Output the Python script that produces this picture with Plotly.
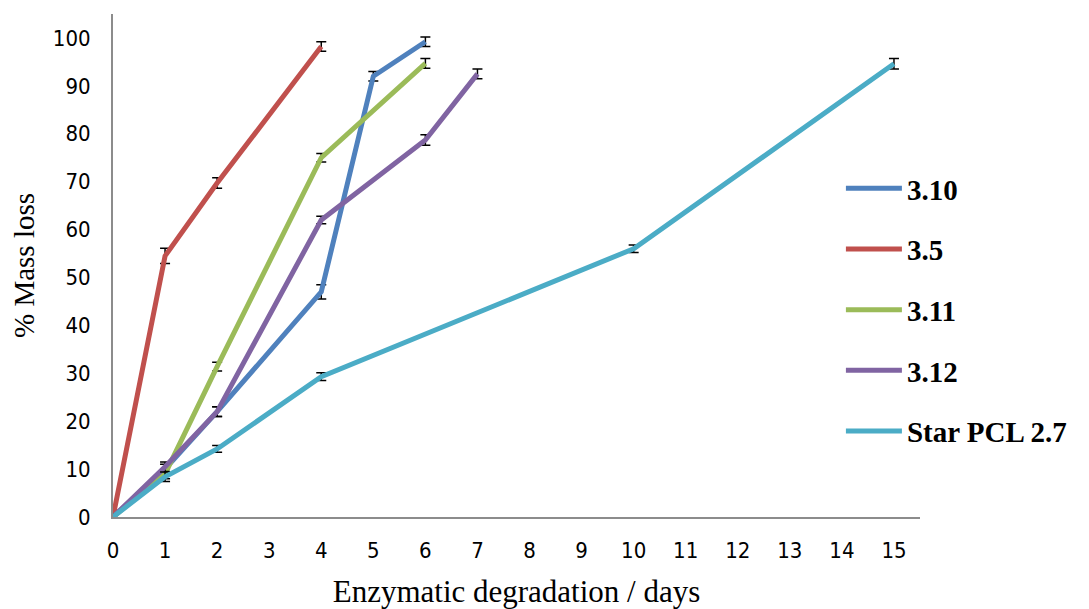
import plotly.graph_objects as go

series_names = ["3.10", "3.5", "3.11", "3.12", "Star PCL 2.7"]

days_310 = [0, 1, 2, 4, 5, 6]
loss_310 = [0, 10, 22, 47, 92, 99.2]
err_310 = [0.5, 1.0, 1.0, 1.5, 1.0, 1.0]

days_35 = [0, 1, 2, 4]
loss_35 = [0, 54.5, 69.7, 98.2]
err_35 = [0.5, 1.6, 1.1, 1.0]

days_311 = [0, 1, 2, 4, 6]
loss_311 = [0, 9, 31.4, 75, 94.7]
err_311 = [0.5, 1.0, 0.9, 0.9, 1.0]

days_312 = [0, 1, 2, 4, 6, 7]
loss_312 = [0, 10.5, 22, 62, 78.7, 92.5]
err_312 = [0.5, 1.0, 1.0, 0.8, 1.1, 1.0]

days_pcl = [0, 1, 2, 4, 10, 15]
loss_pcl = [0, 8.4, 14.2, 29.3, 56, 94.6]
err_pcl = [0.5, 1.0, 0.7, 0.8, 0.8, 1.1]

colors = ["#4F81BD", "#C0504D", "#9BBB59", "#8064A2", "#4BACC6"]

data = [
    (days_310, loss_310, err_310),
    (days_35, loss_35, err_35),
    (days_311, loss_311, err_311),
    (days_312, loss_312, err_312),
    (days_pcl, loss_pcl, err_pcl),
]

x_ticks = list(range(0, 16))
y_ticks = list(range(0, 101, 10))

tick_font = dict(family="DejaVu Sans Condensed, DejaVu Sans", size=22, color="black")

fig = go.Figure()
for name, (xs, ys, es), c in zip(series_names, data, colors):
    fig.add_trace(go.Scatter(
        x=xs, y=ys, name=name, mode="lines",
        line=dict(color=c, width=5),
        legendgroup=name,
        error_y=dict(type="data", array=es, visible=True, color="black",
                     thickness=1.5, width=5),
    ))

fig.update_layout(
    width=1089, height=609,
    paper_bgcolor="white", plot_bgcolor="white",
    margin=dict(l=105, r=177, t=6, b=100),
    showlegend=True,
    legend=dict(
        x=0.902, y=0.704, xanchor="left", yanchor="top",
        font=dict(family="Liberation Serif", size=29, color="black", weight="bold"),
        tracegroupgap=20, itemwidth=56,
        bgcolor="rgba(0,0,0,0)",
    ),
    xaxis=dict(
        range=[0, 15.5], tickvals=x_ticks, ticktext=[str(v) for v in x_ticks],
        showgrid=False, zeroline=False, automargin=False,
        showline=True, linecolor="#8C8C8C", linewidth=2,
        ticks="outside", ticklen=13, tickcolor="rgba(0,0,0,0)",
        tickfont=tick_font,
        title=dict(text="Enzymatic degradation / days",
                   font=dict(family="Liberation Serif", size=31, color="black"),
                   standoff=18),
    ),
    yaxis=dict(
        range=[0, 105], tickvals=y_ticks, ticktext=[str(v) for v in y_ticks],
        showgrid=False, zeroline=False, automargin=False,
        showline=True, linecolor="#8C8C8C", linewidth=2,
        ticks="outside", ticklen=16, tickcolor="rgba(0,0,0,0)",
        tickfont=tick_font,
        title=dict(text="% Mass loss",
                   font=dict(family="Liberation Serif", size=29, color="black"),
                   standoff=10),
    ),
)

fig.write_html("out.html")
